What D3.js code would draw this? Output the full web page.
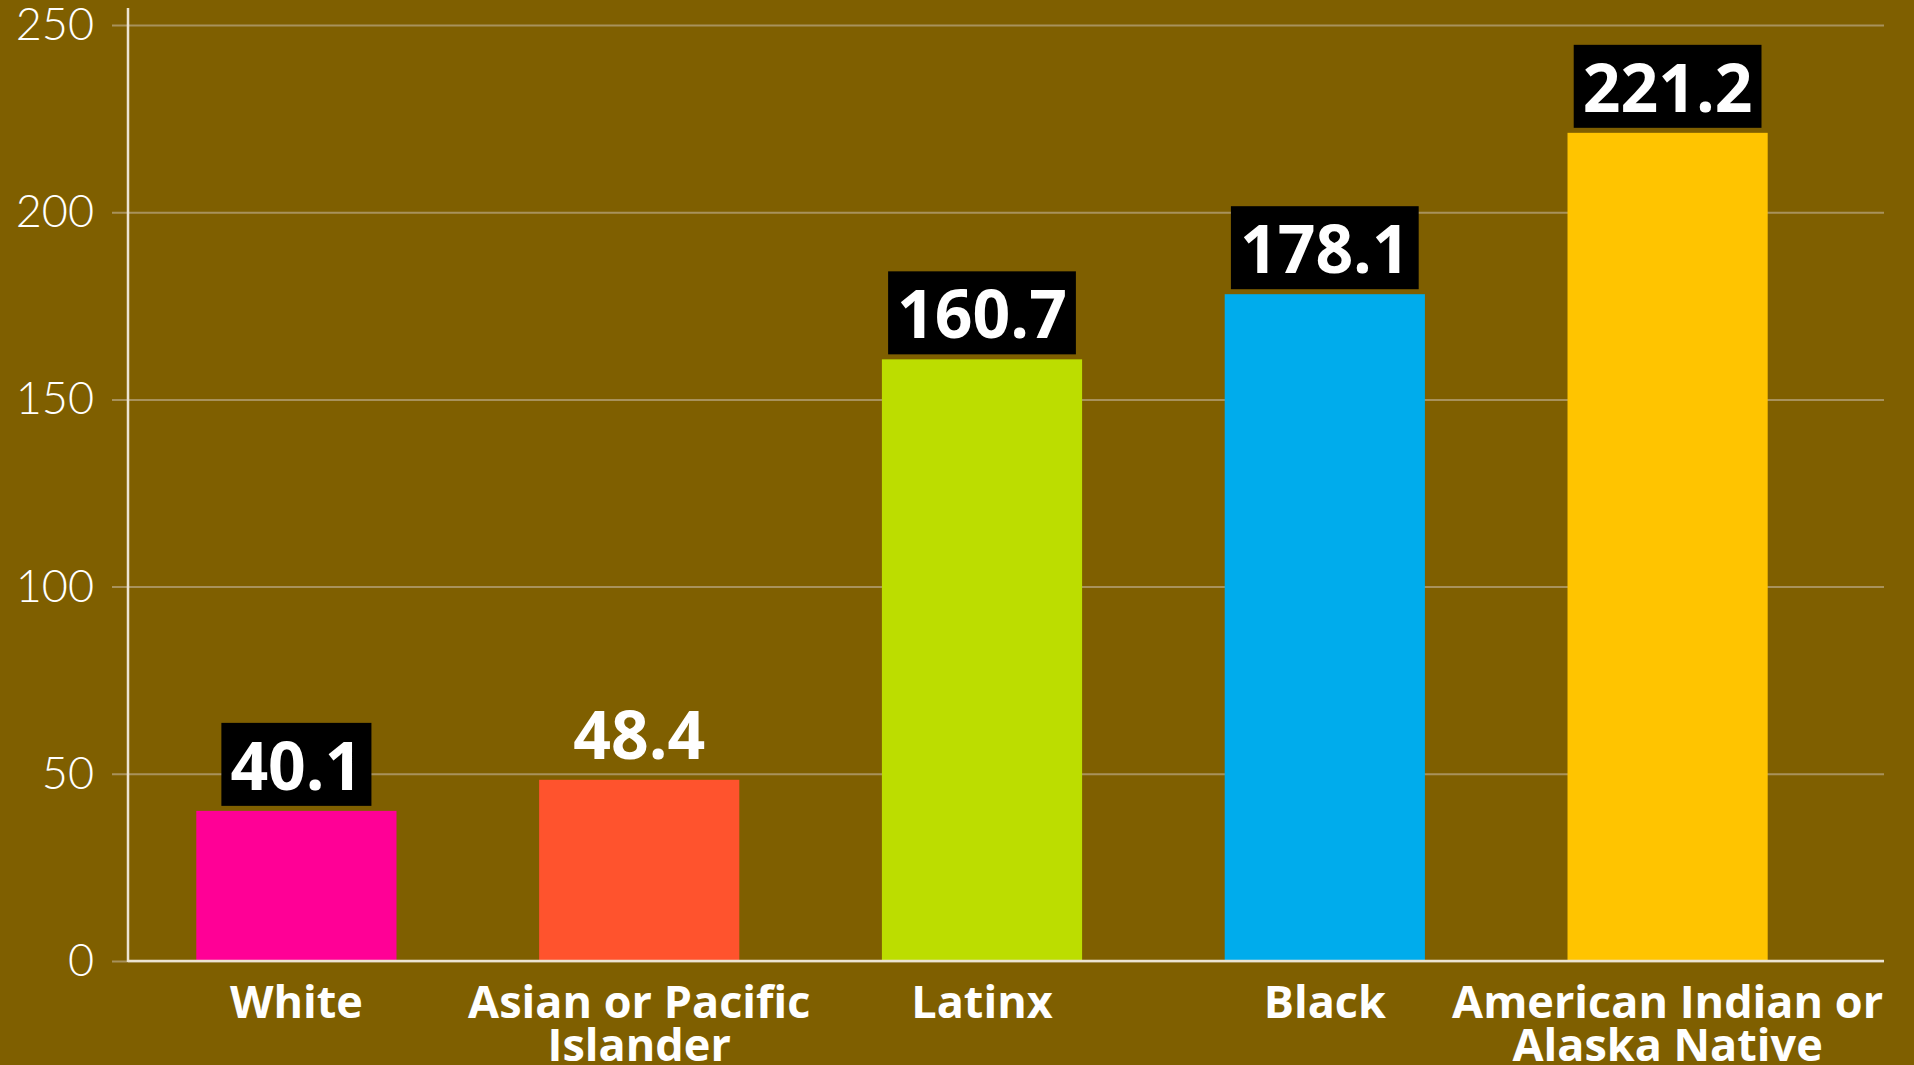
<!DOCTYPE html>
<html>
<head>
<meta charset="utf-8">
<script src="https://d3js.org/d3.v7.min.js"></script>
<style>
  body { margin: 0; background: #7f5f00; }
  svg { display: block; }
</style>
</head>
<body>
<svg id="chart" width="1914" height="1065"></svg>
<script>
// chart data
var categories = ["White", "Asian or Pacific Islander", "Latinx", "Black", "American Indian or Alaska Native"];
var categoryLines = [["White"], ["Asian or Pacific", "Islander"], ["Latinx"], ["Black"], ["American Indian or", "Alaska Native"]];
var values = [40.1, 48.4, 160.7, 178.1, 221.2];
var barColors = ["#ff0096", "#ff532d", "#bcdd00", "#00acec", "#ffc400"];
var labelBoxed = [true, false, true, true, true];
var yTicks = [0, 50, 100, 150, 200, 250];

var svg = d3.select("#chart");

var x = d3.scaleBand()
  .domain(categories)
  .range([125, 1839])
  .paddingInner(0.416)
  .paddingOuter(0.208);

var y = d3.scaleLinear()
  .domain([0, 250])
  .range([961, 25]);

// gridlines + tick labels
var grid = svg.append("g")
  .attr("transform", "translate(1884,0)")
  .call(d3.axisLeft(y).tickValues(yTicks).tickSize(1772).tickPadding(18));

grid.select(".domain").remove();
grid.selectAll(".tick line")
  .attr("stroke", "#a8925c")
  .attr("stroke-width", 2);
grid.selectAll(".tick text")
  .attr("fill", "#ffffff")
  .style("font-family", "Lato, 'Open Sans', sans-serif")
  .style("font-weight", 300)
  .style("font-size", "45px");

// bars
svg.selectAll(".bar")
  .data(values)
  .enter()
    .append("rect")
    .attr("class", "bar")
    .attr("x", function(d, i) { return x(categories[i]); })
    .attr("width", x.bandwidth())
    .attr("y", function(d) { return y(d); })
    .attr("height", function(d) { return y(0) - y(d); })
    .attr("fill", function(d, i) { return barColors[i]; });

// axis lines
svg.append("line")
  .attr("x1", 128).attr("x2", 128)
  .attr("y1", y(250) - 17).attr("y2", y(0) + 1)
  .attr("stroke", "#ece4d2").attr("stroke-width", 2.5);
svg.append("line")
  .attr("x1", 128).attr("x2", 1884)
  .attr("y1", y(0)).attr("y2", y(0))
  .attr("stroke", "#ece4d2").attr("stroke-width", 2.5);

// value labels
var labels = svg.selectAll(".val")
  .data(values)
  .enter()
    .append("g")
    .attr("class", "val");

labels.append("text")
  .attr("x", function(d, i) { return x(categories[i]) + x.bandwidth() / 2; })
  .attr("y", function(d) { return y(d) - 21; })
  .attr("text-anchor", "middle")
  .attr("fill", "#ffffff")
  .style("font-family", "'Open Sans', sans-serif")
  .style("font-weight", 700)
  .style("font-size", "66px")
  .text(function(d) { return d.toFixed(1); });

labels.each(function(d, i) {
  if (!labelBoxed[i]) return;
  var g = d3.select(this);
  var bb = g.select("text").node().getBBox();
  g.insert("rect", "text")
    .attr("x", bb.x - 9)
    .attr("width", bb.width + 18)
    .attr("y", y(d) - 88)
    .attr("height", 83)
    .attr("fill", "#000000");
});

// category labels
var cats = svg.selectAll(".cat")
  .data(categoryLines)
  .enter()
    .append("text")
    .attr("class", "cat")
    .attr("text-anchor", "middle")
    .attr("fill", "#ffffff")
    .style("font-family", "'Open Sans', sans-serif")
    .style("font-weight", 700)
    .style("font-size", "45px");

cats.selectAll("tspan")
  .data(function(d, i) {
    return d.map(function(line) { return {line: line, cx: x(categories[i]) + x.bandwidth() / 2}; });
  })
  .enter()
    .append("tspan")
    .attr("x", function(d) { return d.cx; })
    .attr("y", function(d, j) { return 1018 + j * 42.5; })
    .text(function(d) { return d.line; });
</script>
</body>
</html>
